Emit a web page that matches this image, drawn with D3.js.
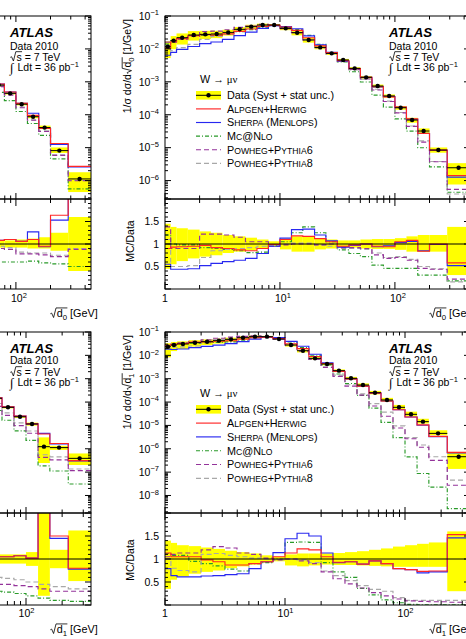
<!DOCTYPE html>
<html><head><meta charset="utf-8">
<script src="https://cdn.jsdelivr.net/npm/d3@7"></script>
<style>body{margin:0;background:#fff;overflow:hidden}</style>
</head><body>
<script>
// ---------------- DATA ----------------
const topEdges = [1,1.12,1.26,1.58,2.0,2.51,3.16,3.98,5.01,6.31,7.94,10,12.6,15.8,20,25.1,31.6,39.8,50.1,63.1,79.4,100,126,158,200,285,450];
const botEdges = [1,1.12,1.26,1.58,2.0,2.51,3.16,3.98,5.01,6.31,7.94,10,12.6,15.8,20,25.1,31.6,39.8,50.1,63.1,79.4,100,126,158,225,348];

// right column, sqrt(d0)
const trData = [1.17e-2,1.78e-2,2.19e-2,2.64e-2,2.77e-2,2.84e-2,3.18e-2,3.94e-2,4.74e-2,5.32e-2,5.32e-2,4.22e-2,3.11e-2,1.87e-2,1.11e-2,7.33e-3,4.60e-3,2.57e-3,1.37e-3,7.45e-4,3.72e-4,1.63e-4,6.90e-5,3.20e-5,8.45e-6,2.45e-6];
const trUp   = [0.45,0.38,0.35,0.32,0.28,0.25,0.20,0.17,0.14,0.10,0.06,0.12,0.17,0.17,0.12,0.10,0.08,0.08,0.10,0.11,0.11,0.13,0.17,0.20,0.20,0.38];
const trDown = [0.55,0.45,0.38,0.32,0.28,0.25,0.20,0.17,0.14,0.10,0.06,0.12,0.17,0.17,0.12,0.10,0.08,0.08,0.10,0.11,0.11,0.13,0.17,0.17,0.17,0.69];
const trAlpgen = [0.90,0.93,0.94,0.95,0.97,0.92,0.90,0.87,0.85,0.90,0.99,1.10,1.18,1.17,1.12,1.05,0.95,0.98,1.00,0.95,0.94,1.05,1.08,0.84,1.00,0.58];
const trSherpa = [0.55,0.44,0.44,0.45,0.52,0.57,0.61,0.64,0.68,0.79,0.95,1.13,1.32,1.33,1.20,1.07,0.93,0.97,1.00,0.94,0.96,1.03,1.06,0.85,0.99,0.52];
const trMcnlo  = [1.20,1.00,0.98,0.98,0.92,0.90,0.88,0.85,0.81,0.82,0.96,1.05,1.25,1.38,1.25,1.05,0.87,0.79,0.72,0.53,0.46,0.46,0.46,0.31,0.31,0.18];
const trPy6    = [1.38,0.90,0.90,0.90,1.22,1.22,1.20,1.15,1.05,1.05,0.95,0.98,1.00,1.00,0.98,1.00,0.92,0.92,0.90,0.76,0.68,0.70,0.64,0.46,0.44,0.22];
const trPy8    = [1.10,0.50,0.50,0.52,0.70,0.85,0.88,0.90,0.92,0.95,0.97,1.00,1.02,1.02,0.98,0.95,0.90,0.90,0.88,0.80,0.70,0.72,0.66,0.50,0.45,0.16];

// right column, sqrt(d1)
const brData = [2.35e-2,2.77e-2,3.06e-2,3.49e-2,3.85e-2,4.26e-2,4.85e-2,5.71e-2,6.31e-2,6.31e-2,5.01e-2,2.77e-2,1.58e-2,7.45e-3,4.27e-3,2.21e-3,1.04e-3,5.37e-4,2.51e-4,1.23e-4,5.96e-5,2.99e-5,1.45e-5,4.57e-6,4.57e-7];
const brUp   = [0.40,0.35,0.30,0.28,0.25,0.22,0.18,0.15,0.12,0.08,0.05,0.10,0.12,0.12,0.12,0.13,0.15,0.17,0.20,0.23,0.27,0.30,0.33,0.36,0.60];
const brDown = [0.65,0.45,0.38,0.32,0.28,0.25,0.20,0.16,0.12,0.08,0.05,0.14,0.16,0.14,0.12,0.13,0.13,0.14,0.15,0.16,0.17,0.17,0.17,0.17,0.70];
const brAlpgen = [1.13,1.05,1.05,1.05,0.98,0.94,0.87,0.87,0.90,0.94,1.05,1.13,1.22,1.20,1.05,0.93,0.94,0.89,0.96,0.90,0.79,0.77,0.73,0.74,1.53];
const brSherpa = [0.79,0.64,0.61,0.61,0.63,0.64,0.66,0.68,0.79,0.94,1.14,1.44,1.56,1.50,1.13,0.92,0.94,0.89,0.96,0.90,0.79,0.77,0.70,0.72,1.46];
const brMcnlo  = [1.12,1.08,1.08,0.95,0.90,0.85,0.78,0.74,0.90,0.92,1.00,1.36,1.37,1.36,0.92,0.72,0.60,0.36,0.22,0.11,0.05,0.015,0.006,0.005,0.006];
const brPy6    = [1.05,1.10,1.13,1.13,1.20,1.27,1.24,1.13,1.10,1.02,0.98,1.00,0.96,0.90,0.72,0.57,0.46,0.37,0.27,0.20,0.13,0.09,0.08,0.07,0.06];
const brPy8    = [1.00,0.80,0.75,0.72,1.10,1.12,1.08,1.05,1.02,1.00,0.98,1.00,0.98,0.92,0.74,0.64,0.53,0.42,0.34,0.30,0.16,0.10,0.10,0.10,0.10];

// left column (only the visible right-hand bins), sqrt(d0)
const tlFirstBin = 19;
const tlData = [7.94e-4,4.47e-4,2.09e-4,8.71e-5,4.07e-5,8.13e-6,1.12e-6];
const tlUp   = [0.08,0.08,0.10,0.12,0.15,0.25,0.60];
const tlDown = [0.08,0.08,0.08,0.10,0.10,0.15,0.60];
const tlAlpgen = [1.08,1.10,1.06,1.10,0.95,1.64,2.40];
const tlSherpa = [1.08,1.10,1.06,1.27,0.94,1.53,2.30];
const tlMcnlo  = [0.60,0.60,0.60,0.62,0.58,0.56,0.50];
const tlPy6    = [0.90,0.88,0.78,0.78,0.76,0.72,0.88];
const tlPy8    = [0.95,0.92,0.82,0.80,0.80,0.75,0.90];

// left column, sqrt(d1)
const blFirstBin = 18;
const blData = [1.45e-4,5.96e-5,2.34e-5,1.15e-5,1.23e-6,1.12e-6,3.89e-7];
const blUp   = [0.10,0.10,0.10,0.15,1.50,0.20,0.62];
const blDown = [0.10,0.10,0.10,0.15,0.80,0.20,0.48];
const blAlpgen = [1.05,1.05,1.07,1.02,3.50,1.50,0.80];
const blSherpa = [1.05,1.05,1.07,1.02,3.70,1.45,0.78];
const blMcnlo  = [0.30,0.28,0.25,0.20,0.15,0.10,0.08];
const blPy6    = [0.45,0.45,0.42,0.40,0.35,0.30,0.30];
const blPy8    = [0.60,0.58,0.55,0.50,0.45,0.40,0.35];

const legendLabels = ["Data (Syst + stat unc.)","Alpgen+Herwig","Sherpa (Menlops)","Mc@Nlo","Powheg+Pythia6","Powheg+Pythia8"];
const infoLines = ["ATLAS","Data 2010","= 7 TeV","Ldt = 36 pb"];
const procLabel = "W";
// ---------------- STYLE ----------------
const SANS = '"Liberation Sans", Arial, Helvetica, sans-serif';
const SERIF = '"Liberation Serif", "DejaVu Serif", serif';
const series = [
  {key:"mcnlo", color:"#2a9a2a", dash:"4,2,1,2"},
  {key:"py8", color:"#a8a8a8", dash:"5,3"},
  {key:"py6", color:"#94339a", dash:"5,3"},
  {key:"sherpa", color:"#2828f0", dash:null},
  {key:"alpgen", color:"#ff2626", dash:null}
];
const legendOrder = ["data","alpgen","sherpa","mcnlo","py6","py8"];

const svg = d3.select("body").append("svg").attr("width",466).attr("height",639)
  .style("font-family",SANS).style("display","block");
const defs = svg.append("defs");
let clipN = 0;

function sqrtLabel(parent, x, y, anchor, fs, pre, rad, sub, post) {
  const t = parent.append("text").attr("x",x).attr("y",y).attr("text-anchor",anchor).attr("font-size",fs);
  const radW = fs*0.62;
  if (pre) t.append("tspan").text(pre);
  t.append("tspan").attr("dx",radW).text(rad);
  if (sub) t.append("tspan").attr("font-size",fs*0.72).attr("dy",fs*0.28).text(sub);
  if (post) t.append("tspan").attr("dy",sub?-fs*0.28:0).text(post);
  const node = t.node();
  const i0 = pre.length;
  const e0 = node.getExtentOfChar(i0);
  const e1 = node.getExtentOfChar(i0 + rad.length + sub.length - 1);
  const left = e0.x - radW + 0.3;
  const top = y - fs*0.84;
  const right = e1.x + e1.width + 0.3;
  parent.append("path")
    .attr("d",`M${left},${y-fs*0.3}L${left+fs*0.12},${y-fs*0.36}L${left+fs*0.3},${y+fs*0.05}L${left+radW-1},${top}L${right},${top}`)
    .attr("fill","none").attr("stroke","#000").attr("stroke-width",0.8);
  return t;
}
function smallCaps(t, str, fs) {
  const runs = [];
  for (const ch of str) {
    const sm = ch >= 'a' && ch <= 'z';
    if (runs.length && runs[runs.length-1].sm === sm) runs[runs.length-1].s += ch;
    else runs.push({sm, s:ch});
  }
  runs.forEach(r => t.append("tspan").attr("font-size", r.sm ? fs*0.8 : fs).text(r.sm ? r.s.toUpperCase() : r.s));
}
function logTicks(dom) {
  const out = [];
  for (let k=-10; k<=3; k++) for (let m=1; m<=9; m++) {
    const v = m*Math.pow(10,k);
    if (v >= dom[0]*0.9999 && v <= dom[1]*1.0001) out.push({v, major:m===1});
  }
  return out;
}

function drawPanel(P) {
  const g = svg.append("g");
  const x0 = P.frameX[0]+P.dx, x1 = P.frameX[1]+P.dx;
  const inView = P.dx === 0;   // left column is mostly outside the picture
  const x = d3.scaleLog().domain(P.xDomain).range([x0,x1]);
  const ym = d3.scaleLog().domain(P.mainDomain).range([P.mainY[1],P.mainY[0]]);
  const yr = d3.scaleLinear().domain([0,2]).range([P.ratioY[1],P.ratioY[0]]);
  const cm = "clip"+(clipN++), cr = "clip"+(clipN++);
  defs.append("clipPath").attr("id",cm).append("rect").attr("x",x0).attr("y",P.mainY[0]).attr("width",x1-x0).attr("height",P.mainY[1]-P.mainY[0]);
  defs.append("clipPath").attr("id",cr).append("rect").attr("x",x0).attr("y",P.ratioY[0]).attr("width",x1-x0).attr("height",P.ratioY[1]-P.ratioY[0]);
  const gm = g.append("g").attr("clip-path",`url(#${cm})`);
  const gr = g.append("g").attr("clip-path",`url(#${cr})`);

  const bins = P.data.map((v,k) => ({k, lo:P.edges[P.first+k], hi:P.edges[P.first+k+1], v, up:P.up[k], dn:P.down[k]}));
  gm.selectAll("rect").data(bins).join("rect")
    .attr("x",d=>x(d.lo)).attr("width",d=>x(d.hi)-x(d.lo))
    .attr("y",d=>ym(d.v*(1+d.up))).attr("height",d=>ym(Math.max(d.v*(1-d.dn),1e-14))-ym(d.v*(1+d.up)))
    .attr("fill","#ffff00");
  gr.selectAll("rect").data(bins).join("rect")
    .attr("x",d=>x(d.lo)).attr("width",d=>x(d.hi)-x(d.lo))
    .attr("y",d=>yr(1+d.up)).attr("height",d=>yr(1-d.dn)-yr(1+d.up))
    .attr("fill","#ffff00");
  series.forEach(s => {
    const r = P.ratios[s.key];
    const mainPts = bins.map(b => [b.lo, b.v*r[b.k]]);
    mainPts.push([bins[bins.length-1].hi, mainPts[mainPts.length-1][1]]);
    const ratPts = bins.map(b => [b.lo, r[b.k]]);
    ratPts.push([bins[bins.length-1].hi, ratPts[ratPts.length-1][1]]);
    const lm = d3.line().x(d=>x(d[0])).y(d=>ym(Math.max(d[1],1e-14))).curve(d3.curveStepAfter);
    const lr = d3.line().x(d=>x(d[0])).y(d=>yr(d[1])).curve(d3.curveStepAfter);
    [[gm,lm,mainPts],[gr,lr,ratPts]].forEach(([gg,ln,pts]) => {
      gg.append("path").attr("d",ln(pts)).attr("fill","none").attr("stroke",s.color)
        .attr("stroke-width",1.15).attr("stroke-dasharray",s.dash);
    });
  });
  gr.append("line").attr("x1",x0).attr("x2",x1).attr("y1",yr(1)).attr("y2",yr(1)).attr("stroke","#000").attr("stroke-width",1);
  gm.selectAll("line.d").data(bins).join("line").attr("class","d")
    .attr("x1",d=>x(d.lo)).attr("x2",d=>x(d.hi)).attr("y1",d=>ym(d.v)).attr("y2",d=>ym(d.v))
    .attr("stroke","#000").attr("stroke-width",1);
  gm.selectAll("circle").data(bins).join("circle")
    .attr("cx",d=>x(Math.sqrt(d.lo*d.hi))).attr("cy",d=>ym(d.v)).attr("r",2.2).attr("fill","#000");

  const ax = g.append("g").attr("stroke","#000").attr("stroke-width",1).attr("fill","none");
  ax.append("rect").attr("x",x0).attr("y",P.mainY[0]).attr("width",x1-x0).attr("height",P.mainY[1]-P.mainY[0]);
  ax.append("rect").attr("x",x0).attr("y",P.ratioY[0]).attr("width",x1-x0).attr("height",P.ratioY[1]-P.ratioY[0]);
  const xt = logTicks(P.xDomain);
  const tk = [];
  xt.forEach(t => {
    const px = x(t.v);
    const lm = t.major?6:3.5, lr = t.major?7:4;
    tk.push([px,P.mainY[0],px,P.mainY[0]+lm],[px,P.mainY[1],px,P.mainY[1]-lm],
            [px,P.ratioY[0],px,P.ratioY[0]+lr],[px,P.ratioY[1],px,P.ratioY[1]-lr]);
  });
  logTicks(P.mainDomain).forEach(t => {
    const py = ym(t.v), l = t.major?6:3;
    tk.push([x0,py,x0+l,py],[x1,py,x1-l,py]);
  });
  d3.range(0,2.0001,0.1).forEach(v => {
    const py = yr(v), major = Math.abs(v*2-Math.round(v*2))<1e-6, l = major?6:3;
    tk.push([x0,py,x0+l,py],[x1,py,x1-l,py]);
  });
  ax.selectAll("line").data(tk).join("line")
    .attr("x1",d=>d[0]).attr("y1",d=>d[1]).attr("x2",d=>d[2]).attr("y2",d=>d[3]);

  const fs = 10.5;
  if (inView) {
    logTicks(P.mainDomain).filter(t=>t.major).forEach(t => {
      const e = Math.round(Math.log10(t.v));
      const tt = g.append("text").attr("x",x0-6).attr("y",ym(t.v)+3.8).attr("text-anchor","end").attr("font-size",fs);
      tt.append("tspan").text("10");
      tt.append("tspan").attr("dy",-4.5).attr("font-size",7.5).text("\u2212"+(-e));
    });
    [0.5,1,1.5].forEach(v => {
      g.append("text").attr("x",x0-6).attr("y",yr(v)+3.8).attr("text-anchor","end").attr("font-size",fs).text(String(v));
    });
    const gy = g.append("g").attr("transform",`translate(${x0-34},${P.mainY[0]+3}) rotate(-90)`);
    sqrtLabel(gy, 0, 0, "end", 10.5, "1/\u03c3 d\u03c3/d", "d", P.sub, " [1/GeV]");
    g.append("text").attr("transform",`translate(${x0-31},${P.ratioTitleY}) rotate(-90)`)
      .attr("text-anchor","middle").attr("font-size",10.5).text("MC/Data");
  }
  xt.filter(t=>t.major).forEach(t => {
    const e = Math.round(Math.log10(t.v));
    const px = x(t.v) + (e === 0 ? 0 : P.xLabelShift);
    if (px < 8) return;
    const tt = g.append("text").attr("x",px).attr("y",P.xLabelY).attr("font-size",fs).attr("text-anchor","middle");
    if (e === 0) tt.text("1");
    else {
      tt.append("tspan").text("10");
      tt.append("tspan").attr("dy",-4.5).attr("font-size",7.5).text(String(e));
    }
  });
  sqrtLabel(g, x1, P.xTitleY, "end", 10.8, "", "d", P.sub, " [GeV]");

  const tx = 389 + P.dx;
  g.append("text").attr("x",tx).attr("y",P.textY[0]).attr("font-size",13.2).attr("font-weight","bold").attr("font-style","italic").text(infoLines[0]);
  g.append("text").attr("x",tx).attr("y",P.textY[1]).attr("font-size",10.5).text(infoLines[1]);
  sqrtLabel(g, tx, P.textY[2], "start", 10.5, "", "s", "", " "+infoLines[2]);
  const lt = g.append("text").attr("x",tx).attr("y",P.textY[3]).attr("font-size",10.5);
  lt.append("tspan").attr("font-family",SERIF).attr("font-size",13).attr("dy",1).text("\u222b");
  lt.append("tspan").attr("dy",-1).attr("dx",1).text(" "+infoLines[3]);
  lt.append("tspan").attr("dy",-4.5).attr("font-size",7.5).text("\u22121");

  if (P.legend) {
    const lfs = 10.8;
    const hd = g.append("text").attr("x",200+P.dx).attr("y",P.legendY).attr("font-size",lfs);
    hd.append("tspan").text(procLabel+" ");
    hd.append("tspan").attr("font-family",SERIF).text("\u2192 \u03bc\u03bd");
    const lx0 = 196+P.dx, lx1 = 221+P.dx, ltx = 227+P.dx;
    legendOrder.forEach((key,i) => {
      const cy = P.legendRows[i];
      if (key === "data") {
        g.append("rect").attr("x",lx0).attr("y",cy-4.3).attr("width",lx1-lx0).attr("height",8.6).attr("fill","#ffff00");
        g.append("line").attr("x1",lx0).attr("x2",lx1).attr("y1",cy).attr("y2",cy).attr("stroke","#000").attr("stroke-width",1);
        g.append("circle").attr("cx",(lx0+lx1)/2).attr("cy",cy).attr("r",2.2).attr("fill","#000");
      } else {
        const s = series.find(q=>q.key===key);
        g.append("line").attr("x1",lx0).attr("x2",lx1).attr("y1",cy).attr("y2",cy)
          .attr("stroke",s.color).attr("stroke-width",1.15).attr("stroke-dasharray",s.dash);
      }
      const t = g.append("text").attr("x",ltx).attr("y",cy+3.9).attr("font-size",lfs);
      if (i === 0) t.text(legendLabels[0]); else smallCaps(t, legendLabels[i], lfs);
    });
  }
}

const TOP = {frameX:[165,470], xDomain:[1,450], mainY:[16,199], mainDomain:[Math.pow(10,-6.56),0.1], ratioY:[199,289],
  edges:topEdges, xLabelY:302, xLabelShift:3, xTitleY:317, sub:"0", ratioTitleY:241,
  textY:[37.3,50,60.5,71], legendY:83, legendRows:[95.3,108.9,122.5,136.1,149.7,163.3]};
const BOT = {frameX:[165,470], xDomain:[1,348], mainY:[332,513], mainDomain:[Math.pow(10,-8.75),0.1], ratioY:[513,605],
  edges:botEdges, xLabelY:617, xLabelShift:0.5, xTitleY:633, sub:"1", ratioTitleY:560,
  textY:[352.7,364.3,375.5,386], legendY:397, legendRows:[409.3,423.1,436.9,450.7,464.5,478.3]};

drawPanel(Object.assign({}, TOP, {dx:-379, first:tlFirstBin, data:tlData, up:tlUp, down:tlDown, legend:false,
  ratios:{alpgen:tlAlpgen, sherpa:tlSherpa, mcnlo:tlMcnlo, py6:tlPy6, py8:tlPy8}}));
drawPanel(Object.assign({}, BOT, {dx:-379, first:blFirstBin, data:blData, up:blUp, down:blDown, legend:false,
  ratios:{alpgen:blAlpgen, sherpa:blSherpa, mcnlo:blMcnlo, py6:blPy6, py8:blPy8}}));
drawPanel(Object.assign({}, TOP, {dx:0, first:0, data:trData, up:trUp, down:trDown, legend:true,
  ratios:{alpgen:trAlpgen, sherpa:trSherpa, mcnlo:trMcnlo, py6:trPy6, py8:trPy8}}));
drawPanel(Object.assign({}, BOT, {dx:0, first:0, data:brData, up:brUp, down:brDown, legend:true,
  ratios:{alpgen:brAlpgen, sherpa:brSherpa, mcnlo:brMcnlo, py6:brPy6, py8:brPy8}}));
</script>
</body></html>
